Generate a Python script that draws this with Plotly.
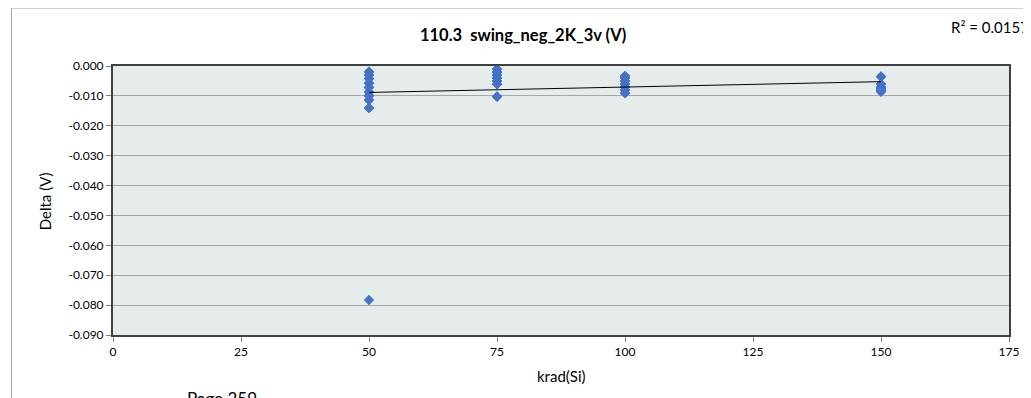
import numpy as np
import plotly.graph_objects as go

# ---- data (overlapping markers listed twice) ----
dose_50 = [-0.0019, -0.0020, -0.0030, -0.0031, -0.0043, -0.0042, -0.0058, -0.0057,
           -0.0072, -0.0071, -0.0088, -0.0087, -0.0099, -0.0100, -0.0114, -0.0113,
           -0.0141, -0.0140, -0.0783]
dose_75 = [-0.0010, -0.0011, -0.0020, -0.0021, -0.0030, -0.0031, -0.0040, -0.0041,
           -0.0050, -0.0051, -0.0060, -0.0061, -0.0103, -0.0102]
dose_100 = [-0.0033, -0.0034, -0.0040, -0.0041, -0.0050, -0.0051, -0.0060, -0.0061,
            -0.0070, -0.0071, -0.0080, -0.0081, -0.0090, -0.0091]
dose_150 = [-0.0035, -0.0036, -0.0060, -0.0061, -0.0070, -0.0071, -0.0075, -0.0076,
            -0.0080, -0.0081, -0.0085, -0.0086]
doses = [50, 75, 100, 150]
groups = [dose_50, dose_75, dose_100, dose_150]

title_text = "110.3  swing_neg_2K_3v (V)"
r2_label = "R² = 0.0157"
x_title = "krad(Si)"
y_title = "Delta (V)"
page_label = "Page 259"
x_ticks = [0, 25, 50, 75, 100, 125, 150, 175]
y_ticks = [0.000, -0.010, -0.020, -0.030, -0.040, -0.050, -0.060, -0.070, -0.080, -0.090]

xs = np.concatenate([[d] * len(g) for d, g in zip(doses, groups)]).astype(float)
ys = np.concatenate(groups)
slope, intercept = np.polyfit(xs, ys, 1)
trend_x = np.array([xs.min(), xs.max()])
trend_y = slope * trend_x + intercept

FONT = "Lato, 'Open Sans', sans-serif"
OFF = 8  # page body margin
W, H = 1023, 390
L, R, T, B = 105, 18, 58, 63
pw, ph = W - L - R, H - T - B

def px(x):
    return (x - OFF - L) / pw

def py(y):
    return (H - B - (y - OFF)) / ph

fig = go.Figure()
fig.add_trace(go.Scatter(x=xs, y=ys, mode="markers",
                         marker=dict(symbol="diamond", size=8, color="#4472C4"),
                         showlegend=False, cliponaxis=False))
fig.add_trace(go.Scatter(x=trend_x, y=trend_y, mode="lines",
                         line=dict(color="black", width=1), showlegend=False))

fig.update_layout(
    width=W, height=H,
    margin=dict(l=L, r=R, t=T, b=B, pad=0),
    paper_bgcolor="white", plot_bgcolor="#E6ECEB",
    font=dict(family=FONT, size=11.5, color="black"),
    showlegend=False,
    title=dict(text="<b>" + title_text + "</b>", x=px(525), xref="paper",
               xanchor="center", y=1 - (35 - OFF) / H, yanchor="middle",
               font=dict(size=16.5, family=FONT)),
)
fig.update_xaxes(range=[0, 175], tickvals=x_ticks, ticktext=[str(v) for v in x_ticks],
                 showgrid=False, zeroline=False, showline=True, linecolor="#404040",
                 linewidth=2, mirror=True, ticks="outside", ticklen=5, tickcolor="#808080",
                 tickfont=dict(size=12))
fig.update_yaxes(range=[-0.090, 0.0], tickvals=y_ticks, ticktext=[f"{v:.3f}" for v in y_ticks],
                 showgrid=True, gridcolor="#A6A6A6", gridwidth=1, zeroline=False,
                 showline=True, linecolor="#404040", linewidth=2, mirror=True,
                 ticks="outside", ticklen=5, tickcolor="#808080",
                 tickfont=dict(size=12))

# outer chart border (extends past the window on right/bottom)
fig.add_shape(type="rect", xref="paper", yref="paper",
              x0=px(11), x1=px(1060), y0=py(430), y1=py(8),
              line=dict(color="#A6A6A6", width=1), fillcolor="rgba(0,0,0,0)", layer="below")

fig.add_annotation(text=x_title, xref="paper", yref="paper", x=px(563), y=py(376),
                   xanchor="center", yanchor="middle", showarrow=False,
                   font=dict(size=15, family=FONT))
fig.add_annotation(text=y_title, xref="paper", yref="paper", x=px(45), y=py(201),
                   xanchor="center", yanchor="middle", showarrow=False, textangle=-90,
                   font=dict(size=15, family=FONT))
fig.add_annotation(text=r2_label, xref="paper", yref="paper", x=px(953), y=py(27),
                   xanchor="left", yanchor="middle", showarrow=False,
                   font=dict(size=15, family=FONT))
fig.add_annotation(text=page_label, xref="paper", yref="paper", x=px(185), y=py(386),
                   xanchor="left", yanchor="top", showarrow=False,
                   font=dict(size=17, family=FONT))

fig.write_html("out.html")
